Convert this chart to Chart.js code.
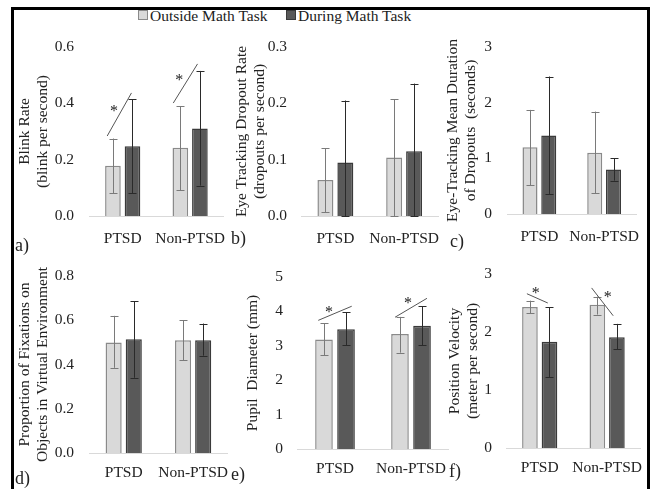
<!DOCTYPE html>
<html>
<head>
<meta charset="utf-8">
<script src="https://cdn.jsdelivr.net/npm/chart.js@4.4.0/dist/chart.umd.min.js"></script>
<style>
  body { margin: 0; width: 654px; height: 489px; background: #fff; position: relative; overflow: hidden; font-family: "Liberation Serif", serif; }
  .frame { position: absolute; left: 11px; top: 7px; width: 633px; height: 520px; border: 3px solid #000; border-bottom: none; }
  canvas { position: absolute; }
  .tag { position: absolute; font-size: 18px; color: #222; line-height: 18px; }
  .leg { position: absolute; top: 7px; font-size: 15.5px; color: #222; line-height: 17px; white-space: nowrap; }
  .leg i { display: inline-block; width: 8px; height: 8px; margin-right: 2px; vertical-align: 1px; }
</style>
</head>
<body>
<div class="frame"></div>
<div id="legend"></div>
<script>
const categories = ['PTSD', 'Non-PTSD'];
const seriesLabels = ['Outside Math Task', 'During Math Task'];

// a) blink rate
const blinkOutside = [0.178, 0.242];
const blinkOutsideErr = [[0.080, 0.275], [0.092, 0.389]];
const blinkDuring = [0.248, 0.311];
const blinkDuringErr = [[0.080, 0.415], [0.108, 0.515]];
const blinkTicks = [0, 0.6, 0.2];

// b) dropout rate
const dropOutside = [0.064, 0.104];
const dropOutsideErr = [[0.007, 0.120], [0, 0.207]];
const dropDuring = [0.095, 0.115];
const dropDuringErr = [[0, 0.205], [0, 0.235]];
const dropTicks = [0, 0.3, 0.1];

// c) mean duration of dropouts
const durOutside = [1.20, 1.10];
const durOutsideErr = [[0.52, 1.87], [0.37, 1.84]];
const durDuring = [1.41, 0.80];
const durDuringErr = [[0.36, 2.47], [0.60, 1.00]];
const durTicks = [0, 3, 1];

// d) fixations on objects
const fixOutside = [0.500, 0.510];
const fixOutsideErr = [[0.385, 0.620], [0.420, 0.600]];
const fixDuring = [0.514, 0.510];
const fixDuringErr = [[0.340, 0.687], [0.440, 0.585]];
const fixTicks = [0, 0.8, 0.2];

// e) pupil diameter
const pupilOutside = [3.18, 3.34];
const pupilOutsideErr = [[2.73, 3.65], [2.80, 3.84]];
const pupilDuring = [3.48, 3.58];
const pupilDuringErr = [[3.02, 3.97], [3.02, 4.15]];
const pupilTicks = [0, 5, 1];

// f) position velocity
const velOutside = [2.43, 2.47];
const velOutsideErr = [[2.32, 2.54], [2.30, 2.61]];
const velDuring = [1.83, 1.91];
const velDuringErr = [[1.22, 2.43], [1.70, 2.14]];
const velTicks = [0, 3, 1];

// significance marks: category, line start/end offsets (category units) and values, star position
const blinkSig = [
  { cat: 0, x1: -0.23, y1: 0.284, x2: 0.13, y2: 0.437, sx: -0.13, sy: 0.383 },
  { cat: 1, x1: -0.25, y1: 0.401, x2: 0.11, y2: 0.540, sx: -0.16, sy: 0.494 }
];
const pupilSig = [
  { cat: 0, x1: -0.22, y1: 3.74, x2: 0.22, y2: 4.15, sx: -0.08, sy: 4.09 },
  { cat: 1, x1: -0.21, y1: 3.83, x2: 0.21, y2: 4.38, sx: -0.04, sy: 4.35 }
];
const velSig = [
  { cat: 0, x1: -0.19, y1: 2.66, x2: 0.12, y2: 2.50, sx: -0.06, sy: 2.72 },
  { cat: 1, x1: -0.23, y1: 2.76, x2: 0.09, y2: 2.28, sx: 0.01, sy: 2.66 }
];

const fills = ['#d9d9d9', '#595959'];
const borders = ['#8a8a8a', '#3a3a3a'];
const errColors = ['#7a7a7a', '#2a2a2a'];
const fontFamily = '"Liberation Serif", serif';
Chart.defaults.font.family = fontFamily;

// legend
const legend = document.getElementById('legend');
[[138, 0], [286, 1]].forEach(([x, i]) => {
  const d = document.createElement('div');
  d.className = 'leg';
  d.style.left = x + 'px';
  d.innerHTML = '<i style="background:' + fills[i] + ';border:1px solid ' + borders[i] + '"></i>' + seriesLabels[i];
  legend.appendChild(d);
});

const errorBars = {
  id: 'errorBars',
  afterDatasetsDraw(chart) {
    const ctx = chart.ctx;
    const y = chart.scales.y;
    chart.data.datasets.forEach((ds, i) => {
      const meta = chart.getDatasetMeta(i);
      ctx.save();
      ctx.strokeStyle = errColors[i];
      ctx.lineWidth = 1;
      meta.data.forEach((bar, j) => {
        const [lo, hi] = ds.err[j];
        const yl = y.getPixelForValue(lo), yh = y.getPixelForValue(hi);
        const x = Math.round(bar.x) + 0.5;
        ctx.beginPath();
        ctx.moveTo(x, yl); ctx.lineTo(x, yh);
        ctx.moveTo(x - 4, Math.round(yh) + 0.5); ctx.lineTo(x + 4, Math.round(yh) + 0.5);
        ctx.moveTo(x - 4, Math.round(yl) + 0.5); ctx.lineTo(x + 4, Math.round(yl) + 0.5);
        ctx.stroke();
      });
      ctx.restore();
    });
    const sig = chart.options.plugins.errorBars.sig || [];
    const xs = chart.scales.x;
    const unit = xs.getPixelForValue(1) - xs.getPixelForValue(0);
    ctx.save();
    ctx.strokeStyle = '#555';
    ctx.fillStyle = '#222';
    ctx.lineWidth = 1;
    ctx.font = '16px ' + fontFamily;
    ctx.textAlign = 'center';
    ctx.textBaseline = 'middle';
    sig.forEach(s => {
      const c = xs.getPixelForValue(s.cat);
      ctx.beginPath();
      ctx.moveTo(c + s.x1 * unit, y.getPixelForValue(s.y1));
      ctx.lineTo(c + s.x2 * unit, y.getPixelForValue(s.y2));
      ctx.stroke();
      ctx.fillText('*', c + s.sx * unit, y.getPixelForValue(s.sy) + 4);
    });
    ctx.restore();
  }
};

function makePanel(p) {
  // layout padding larger than the y scale's own label padding, so the plot top lands where intended
  const padTop = 30;
  const left = p.area[0] - p.yw, top = p.area[2] - padTop;
  const width = p.area[1] - left, height = p.area[3] - top + 30;
  const cv = document.createElement('canvas');
  cv.width = width; cv.height = height;
  cv.style.left = left + 'px'; cv.style.top = top + 'px';
  document.body.appendChild(cv);
  new Chart(cv, {
    type: 'bar',
    data: {
      labels: categories,
      datasets: [
        { label: seriesLabels[0], data: p.outside, err: p.outsideErr, backgroundColor: fills[0], borderColor: borders[0], borderWidth: 1.5 },
        { label: seriesLabels[1], data: p.during, err: p.duringErr, backgroundColor: fills[1], borderColor: borders[1], borderWidth: 1.5 }
      ]
    },
    options: {
      responsive: false,
      animation: false,
      devicePixelRatio: 1,
      categoryPercentage: 0.58,
      barPercentage: 0.8,
      layout: { padding: { top: padTop, right: 0, left: 0, bottom: 0 } },
      plugins: { legend: { display: false }, tooltip: { enabled: false }, errorBars: { sig: p.sig } },
      scales: {
        x: {
          grid: { display: false },
          border: { color: '#d9d9d9', width: 1 },
          ticks: { color: '#222', padding: p.xPad, maxRotation: 0, autoSkip: false, font: { family: fontFamily, size: 15.5 } },
          afterFit(s) { s.height = 30; }
        },
        y: {
          min: p.ticks[0], max: p.ticks[1],
          grid: { display: false, drawTicks: false },
          border: { display: false },
          ticks: {
            stepSize: p.ticks[2], color: '#222', padding: p.yPad, font: { family: fontFamily, size: 15.5 },
            callback: v => p.dec ? v.toFixed(1) : v
          },
          title: { display: true, text: p.title, color: '#222', padding: { top: p.titlePad, bottom: 0 }, font: { family: fontFamily, size: 15.5, lineHeight: 1.17 } },
          afterFit(s) { s.width = p.yw; }
        }
      }
    },
    plugins: [errorBars]
  });
}

makePanel({ area: [89, 231, 47, 216], yw: 89, titlePad: 16, yPad: 15, xPad: 6, dec: true,
  outside: blinkOutside, outsideErr: blinkOutsideErr, during: blinkDuring, duringErr: blinkDuringErr,
  ticks: blinkTicks, sig: blinkSig, title: ['Blink Rate', '(blink per second)'] });
makePanel({ area: [301, 445, 47, 216], yw: 69, titlePad: 1, yPad: 14, xPad: 6, dec: true,
  outside: dropOutside, outsideErr: dropOutsideErr, during: dropDuring, duringErr: dropDuringErr,
  ticks: dropTicks, sig: [], title: ['Eye Tracking Dropout Rate', '(dropouts per second)'] });
makePanel({ area: [507, 645, 47, 214], yw: 67, titlePad: 4, yPad: 15, xPad: 6, dec: false,
  outside: durOutside, outsideErr: durOutsideErr, during: durDuring, duringErr: durDuringErr,
  ticks: durTicks, sig: [], title: ['Eye-Tracking Mean Duration', 'of Dropouts  (seconds)'] });
makePanel({ area: [89, 231, 276, 453], yw: 89, titlePad: 16, yPad: 15, xPad: 3, dec: true,
  outside: fixOutside, outsideErr: fixOutsideErr, during: fixDuring, duringErr: fixDuringErr,
  ticks: fixTicks, sig: [], title: ['Proportion of Fixations on', 'Objects in Virtual Environment'] });
makePanel({ area: [297, 449, 277, 449], yw: 65, titlePad: 12, yPad: 14, xPad: 3, dec: false,
  outside: pupilOutside, outsideErr: pupilOutsideErr, during: pupilDuring, duringErr: pupilDuringErr,
  ticks: pupilTicks, sig: pupilSig, title: 'Pupil  Diameter (mm)' });
makePanel({ area: [506, 645, 274, 448], yw: 66, titlePad: 6, yPad: 14, xPad: 3, dec: false,
  outside: velOutside, outsideErr: velOutsideErr, during: velDuring, duringErr: velDuringErr,
  ticks: velTicks, sig: velSig, title: ['Position Velocity', '(meter per second)'] });

// panel letters
[['a)', 15, 236], ['b)', 231, 229], ['c)', 450, 232], ['d)', 15, 469], ['e)', 231, 465], ['f)', 449, 462]].forEach(([t, x, y]) => {
  const d = document.createElement('div');
  d.className = 'tag';
  d.textContent = t;
  d.style.left = x + 'px'; d.style.top = y + 'px';
  document.body.appendChild(d);
});
</script>
</body>
</html>
